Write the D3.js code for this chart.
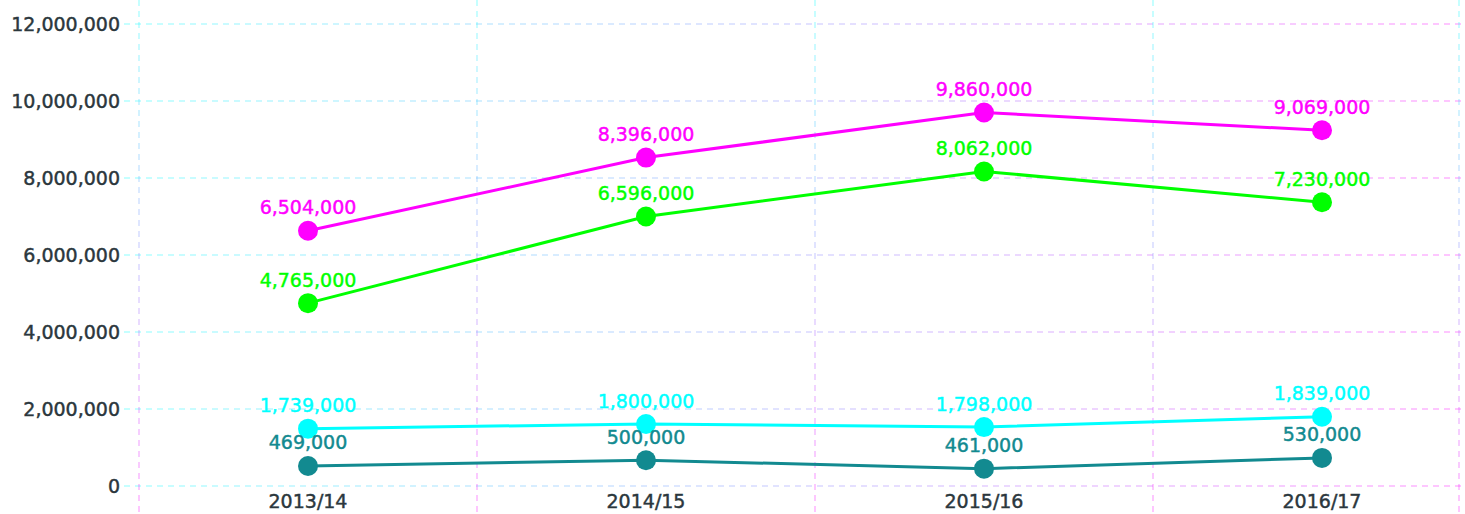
<!DOCTYPE html>
<html>
<head>
  <meta charset="utf-8" />
  <script src="https://d3js.org/d3.v7.min.js"></script>
  <style>
    body { margin: 0; background: #fff; }
    svg text { font-family: "DejaVu Sans", sans-serif; stroke-width: 0.45px; paint-order: stroke; }
  </style>
</head>
<body>
  <div id="chart"></div>
  <script>
    // categories on the x axis
    const years = ["2013/14", "2014/15", "2015/16", "2016/17"];
    const yTicks = [0, 2000000, 4000000, 6000000, 8000000, 10000000, 12000000];

    // where the markers sit
    const magentaValues = [6630000, 8530000, 9700000, 9240000];
    const greenValues = [4750000, 7000000, 8170000, 7370000];
    const cyanValues = [1490000, 1610000, 1530000, 1800000];
    const tealValues = [520000, 670000, 450000, 730000];

    // the numbers printed above the markers
    const magentaLabels = [6504000, 8396000, 9860000, 9069000];
    const greenLabels = [4765000, 6596000, 8062000, 7230000];
    const cyanLabels = [1739000, 1800000, 1798000, 1839000];
    const tealLabels = [469000, 500000, 461000, 530000];

    const series = [
      { color: "#ff00ff", values: magentaValues, labels: magentaLabels },
      { color: "#00ff00", values: greenValues, labels: greenLabels },
      { color: "#00ffff", values: cyanValues, labels: cyanLabels },
      { color: "#128a90", values: tealValues, labels: tealLabels }
    ];

    const width = 1465;
    const height = 514;
    const left = 139;
    const step = 338;
    const axisColor = "#2b373d";

    const svg = d3.select("#chart")
      .append("svg")
      .attr("width", width)
      .attr("height", height);

    const defs = svg.append("defs");
    const hGrad = defs.append("linearGradient")
      .attr("id", "hgrad")
      .attr("gradientUnits", "userSpaceOnUse")
      .attr("x1", 124).attr("x2", width).attr("y1", 0).attr("y2", 0);
    hGrad.append("stop").attr("offset", "0%").attr("stop-color", "#00ffff");
    hGrad.append("stop").attr("offset", "100%").attr("stop-color", "#ff00ff");
    const vGrad = defs.append("linearGradient")
      .attr("id", "vgrad")
      .attr("gradientUnits", "userSpaceOnUse")
      .attr("x1", 0).attr("x2", 0).attr("y1", 0).attr("y2", height);
    vGrad.append("stop").attr("offset", "0%").attr("stop-color", "#00ffff");
    vGrad.append("stop").attr("offset", "100%").attr("stop-color", "#ff00ff");

    const x = d3.scaleBand()
      .domain(years)
      .range([left, left + step * years.length]);

    const y = d3.scaleLinear()
      .domain([0, 12000000])
      .range([486, 24]);

    const fmt = d3.format(",");

    // horizontal grid
    svg.append("g")
      .selectAll("line")
      .data(yTicks)
      .enter().append("line")
      .attr("x1", 124)
      .attr("x2", width)
      .attr("y1", d => y(d))
      .attr("y2", d => y(d))
      .attr("stroke", "url(#hgrad)")
      .attr("stroke-opacity", 0.3)
      .attr("stroke-width", 1.5)
      .attr("stroke-dasharray", "6,5");

    // vertical grid at band edges, plus right edge of plot
    const vLines = years.map(d => x(d)).concat([1459]);
    svg.append("g")
      .selectAll("line")
      .data(vLines)
      .enter().append("line")
      .attr("x1", d => d)
      .attr("x2", d => d)
      .attr("y1", 0)
      .attr("y2", height)
      .attr("stroke", "url(#vgrad)")
      .attr("stroke-opacity", 0.3)
      .attr("stroke-width", 1.5)
      .attr("stroke-dasharray", "6,5");

    // y labels
    svg.append("g")
      .selectAll("text")
      .data(yTicks)
      .enter().append("text")
      .attr("x", 120)
      .attr("y", d => y(d))
      .attr("dy", "0.36em")
      .attr("text-anchor", "end")
      .attr("fill", axisColor)
      .attr("stroke", axisColor)
      .style("font-size", "19px")
      .text(d => fmt(d));

    // x labels
    svg.append("g")
      .selectAll("text")
      .data(years)
      .enter().append("text")
      .attr("x", d => x(d) + x.bandwidth() / 2)
      .attr("y", 508)
      .attr("text-anchor", "middle")
      .attr("fill", axisColor)
      .attr("stroke", axisColor)
      .style("font-size", "19px")
      .text(d => d);

    const line = d3.line()
      .x((d, i) => x(years[i]) + x.bandwidth() / 2)
      .y(d => y(d));

    series.forEach(s => {
      const g = svg.append("g");
      g.append("path")
        .datum(s.values)
        .attr("d", line)
        .attr("fill", "none")
        .attr("stroke", s.color)
        .attr("stroke-width", 3);

      g.selectAll("circle")
        .data(s.values)
        .enter().append("circle")
        .attr("cx", (d, i) => x(years[i]) + x.bandwidth() / 2)
        .attr("cy", d => y(d))
        .attr("r", 10)
        .attr("fill", s.color);

      g.selectAll("text")
        .data(s.values)
        .enter().append("text")
        .attr("x", (d, i) => x(years[i]) + x.bandwidth() / 2)
        .attr("y", d => y(d) - 16.5)
        .attr("text-anchor", "middle")
        .attr("fill", s.color)
        .attr("stroke", s.color)
        .style("font-size", "19px")
        .text((d, i) => fmt(s.labels[i]));
    });
  </script>
</body>
</html>
